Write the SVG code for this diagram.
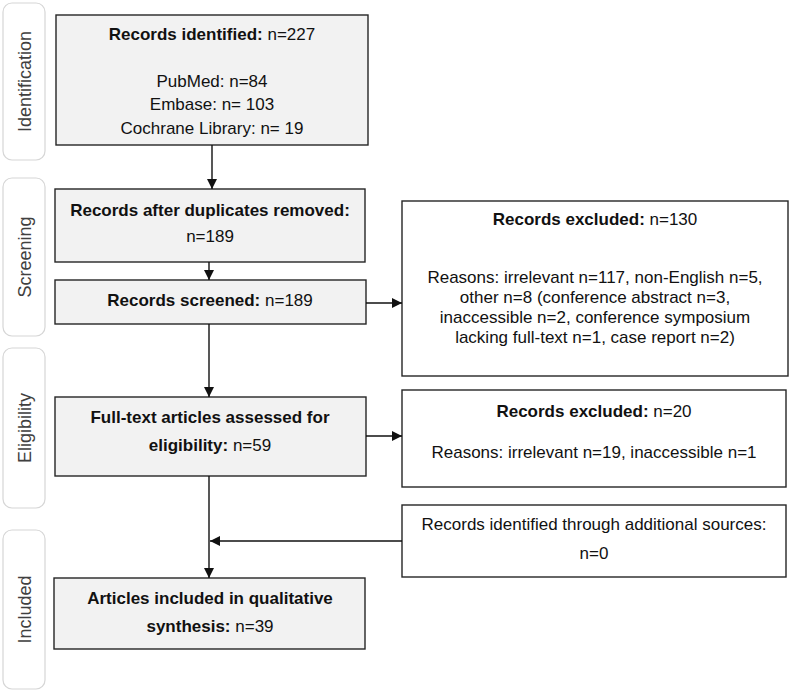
<svg xmlns="http://www.w3.org/2000/svg" width="790" height="691" viewBox="0 0 790 691">
<style>
.side{fill:#fff;stroke:#d6d6d6;stroke-width:1.2}
.sidet{font-family:"Liberation Sans",Arial,sans-serif;font-size:18px;fill:#404040;text-anchor:middle}
.main{fill:#f2f2f2;stroke:#262626;stroke-width:1.4}
.ex{fill:#fff;stroke:#262626;stroke-width:1.4}
.t{font-family:"Liberation Sans",Arial,sans-serif;font-size:17px;fill:#111;text-anchor:middle}
.b{font-weight:bold}
.c{stroke:#111;stroke-width:1.4;fill:none}
</style>
<defs>
<marker id="ah" viewBox="0 0 10 10" refX="10" refY="5" markerWidth="10" markerHeight="10" markerUnits="userSpaceOnUse" orient="auto">
<path d="M0,0 L10,5 L0,10 z" fill="#111"/>
</marker>
</defs>
<g id="stage-identification"><rect class="side" x="3" y="3" width="42" height="157" rx="9"/><text class="sidet" transform="translate(31,81.5) rotate(-90)">Identification</text></g>
<g id="stage-screening"><rect class="side" x="3" y="178" width="42" height="158" rx="9"/><text class="sidet" transform="translate(31,257) rotate(-90)">Screening</text></g>
<g id="stage-eligibility"><rect class="side" x="3" y="348" width="42" height="160" rx="9"/><text class="sidet" transform="translate(31,428) rotate(-90)">Eligibility</text></g>
<g id="stage-included"><rect class="side" x="3" y="530" width="42" height="159" rx="9"/><text class="sidet" transform="translate(31,609.5) rotate(-90)">Included</text></g>

<g id="n-identified"><rect class="main" x="56" y="15" width="312" height="130"/>
<text class="t" x="212" y="40"><tspan class="b">Records identified:</tspan> n=227</text>
<text class="t" x="212" y="87">PubMed: n=84</text>
<text class="t" x="212" y="110">Embase: n= 103</text>
<text class="t" x="212" y="134">Cochrane Library: n= 19</text></g>

<g id="n-duplicates"><rect class="main" x="55" y="189" width="310" height="73"/>
<text class="t b" x="210" y="216">Records after duplicates removed:</text>
<text class="t" x="210" y="242">n=189</text></g>

<g id="n-screened"><rect class="main" x="55" y="280" width="311" height="44"/>
<text class="t" x="210" y="306"><tspan class="b">Records screened:</tspan> n=189</text></g>

<g id="n-excluded1"><rect class="ex" x="402" y="201" width="386" height="175"/>
<text class="t" x="595" y="225"><tspan class="b">Records excluded:</tspan> n=130</text>
<text class="t" x="595" y="283">Reasons: irrelevant n=117, non-English n=5,</text>
<text class="t" x="595" y="303">other n=8 (conference abstract n=3,</text>
<text class="t" x="595" y="323">inaccessible n=2, conference symposium</text>
<text class="t" x="595" y="343">lacking full-text n=1, case report n=2)</text></g>

<g id="n-fulltext"><rect class="main" x="55" y="397" width="311" height="79"/>
<text class="t b" x="210" y="423">Full-text articles assessed for</text>
<text class="t" x="210" y="451"><tspan class="b">eligibility:</tspan> n=59</text></g>

<g id="n-excluded2"><rect class="ex" x="402" y="390" width="384" height="97"/>
<text class="t" x="594" y="417"><tspan class="b">Records excluded:</tspan> n=20</text>
<text class="t" x="594" y="458">Reasons: irrelevant n=19, inaccessible n=1</text></g>

<g id="n-additional"><rect class="ex" x="402" y="505" width="384" height="72"/>
<text class="t" x="594" y="530">Records identified through additional sources:</text>
<text class="t" x="594" y="559">n=0</text></g>

<g id="n-included"><rect class="main" x="54" y="578" width="311" height="71"/>
<text class="t b" x="210" y="604">Articles included in qualitative</text>
<text class="t" x="210" y="632"><tspan class="b">synthesis:</tspan> n=39</text></g>

<g id="connectors">
<line class="c" x1="212" y1="145" x2="212" y2="189" marker-end="url(#ah)"/>
<line class="c" x1="209" y1="262" x2="209" y2="280" marker-end="url(#ah)"/>
<line class="c" x1="366" y1="303" x2="402" y2="303" marker-end="url(#ah)"/>
<line class="c" x1="209" y1="324" x2="209" y2="397" marker-end="url(#ah)"/>
<line class="c" x1="366" y1="436" x2="402" y2="436" marker-end="url(#ah)"/>
<line class="c" x1="209" y1="476" x2="209" y2="578" marker-end="url(#ah)"/>
<line class="c" x1="402" y1="541" x2="210" y2="541" marker-end="url(#ah)"/>
</g>
</svg>
